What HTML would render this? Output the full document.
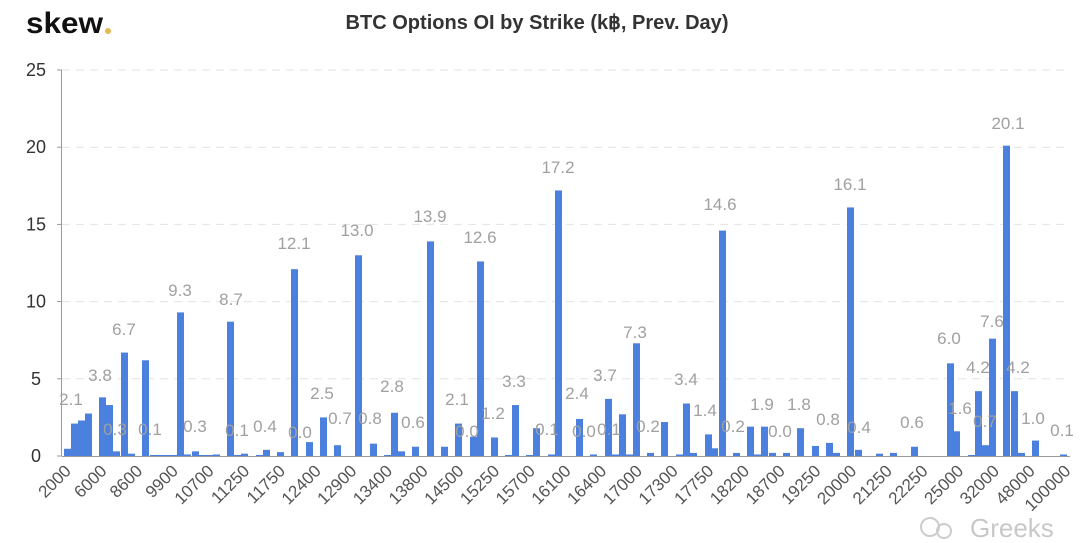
<!DOCTYPE html>
<html><head><meta charset="utf-8"><style>
html,body{margin:0;padding:0;background:#fff;}
svg{display:block;font-family:"Liberation Sans",sans-serif;}
</style></head><body>
<svg id="c" width="1080" height="543" viewBox="0 0 1080 543" xmlns="http://www.w3.org/2000/svg">
<text x="26" y="33" font-size="30" font-weight="bold" fill="#111" textLength="77" lengthAdjust="spacingAndGlyphs">skew</text>
<circle cx="108" cy="31" r="3" fill="#e5b94e"/>
<text x="537" y="29" font-size="20" font-weight="bold" fill="#333" text-anchor="middle" textLength="383" lengthAdjust="spacingAndGlyphs">BTC Options OI by Strike (k฿, Prev. Day)</text>
<g id="grid"></g>
<g id="bars"></g>
<g id="lbl"></g>
<g id="xt"></g>
<text x="970" y="537" font-size="26" fill="#bbb" opacity="0.8">Greeks</text>
<circle cx="930" cy="527" r="9" fill="none" stroke="#ccc" stroke-width="2"/>
<circle cx="944" cy="531" r="7" fill="none" stroke="#ccc" stroke-width="2"/>
</svg>
<script>
const NS="http://www.w3.org/2000/svg";
function el(p,t,a,txt){const e=document.createElementNS(NS,t);for(const k in a)e.setAttribute(k,a[k]);if(txt!==undefined)e.textContent=txt;document.getElementById(p).appendChild(e);return e;}
const Y0=456,S=15.44;
[0,5,10,15,20,25].forEach(v=>{const y=Y0-v*S;
 if(v>0)el("grid","line",{x1:62,x2:1070,y1:y,y2:y,stroke:"#e2e2e2","stroke-dasharray":"8,6","stroke-width":1});
 el("grid","text",{x:36,y:y+6,"font-size":18,fill:"#333","text-anchor":"middle"},String(v));
 el("grid","line",{x1:57,x2:62,y1:y,y2:y,stroke:"#999"});
});
el("grid","line",{x1:61.5,x2:61.5,y1:70,y2:456,stroke:"#999"});
const bars=[[64,.47],[71,2.1],[78,2.3],[85,2.75],[99,3.8],[106,3.3],[113,.3],[121,6.7],[128,.15],[142,6.2],[150,.05],[157,.05],[164,.05],[170,.05],[177,9.3],[184,.1],[192,.3],[199,.05],[206,.05],[213,.1],[227,8.7],[234,.05],[241,.15],[256,.05],[263,.4],[277,.25],[291,12.1],[306,.9],[320,2.5],[334,.7],[355,13.0],[370,.8],[384,.05],[391,2.8],[398,.3],[412,.6],[427,13.9],[441,.6],[455,2.1],[470,1.25],[477,12.6],[491,1.2],[505,.05],[512,3.3],[526,.05],[533,1.8],[548,.1],[555,17.2],[576,2.4],[590,.1],[605,3.7],[612,.1],[619,2.7],[626,.1],[633,7.3],[647,.2],[661,2.2],[676,.1],[683,3.4],[690,.2],[705,1.4],[711,.5],[719,14.6],[733,.2],[747,1.9],[754,.1],[761,1.9],[769,.2],[783,.2],[797,1.8],[812,.65],[826,.85],[833,.2],[847,16.1],[855,.4],[876,.15],[890,.2],[911,.6],[947,6.0],[953,1.6],[968,.05],[975,4.2],[982,.7],[989,7.6],[1003,20.1],[1011,4.2],[1018,.2],[1032,1.0],[1060,.1]];
bars.forEach(([x,v])=>{const h=Math.max(v*S,1);el("bars","rect",{x:x,y:Y0-h,width:7,height:h,fill:"#4c80de"});});
el("bars","line",{x1:62,x2:1070,y1:456.5,y2:456.5,stroke:"#999"});
const L=[["2.1",71,405],["3.8",100,381],["0.3",115,435],["6.7",124,335],["0.1",150,435],["9.3",180,296],["0.3",195,432],["8.7",231,305],["0.1",237,436],["0.4",265,432],["12.1",294,249],["0.0",300,438],["2.5",322,399],["0.7",340,424],["13.0",357,236],["0.8",370,424],["2.8",392,392],["0.6",413,428],["13.9",430,222],["2.1",457,405],["0.0",467,437],["12.6",480,243],["1.2",493,419],["3.3",514,387],["0.1",547,435],["17.2",558,173],["2.4",577,399],["0.0",584,437],["3.7",605,381],["0.1",609,435],["7.3",635,338],["0.2",648,432],["3.4",686,385],["1.4",705,416],["14.6",720,210],["0.2",733,432],["1.9",762,410],["0.0",780,437],["1.8",799,410],["0.8",828,425],["16.1",850,190],["0.4",859,433],["0.6",912,428],["6.0",949,344],["1.6",960,414],["4.2",978,373],["0.7",985,427],["7.6",992,327],["4.2",1018,373],["20.1",1008,129],["1.0",1033,424],["0.1",1062,436]];
L.forEach(([t,x,y])=>el("lbl","text",{x:x,y:y,"font-size":17,fill:"#a0a0a0","text-anchor":"middle"},t));
const X=["2000","6000","8600","9900","10700","11250","11750","12400","12900","13400","13800","14500","15250","15700","16100","16400","17000","17300","17750","18200","18700","19250","20000","21250","22250","25000","32000","48000","100000"];
X.forEach((t,i)=>{const x=72+i*35.7,y=472;el("xt","text",{x:x,y:y,"font-size":17,fill:"#555","text-anchor":"end",transform:`rotate(-45 ${x} ${y})`},t);});
</script>
</body></html>
